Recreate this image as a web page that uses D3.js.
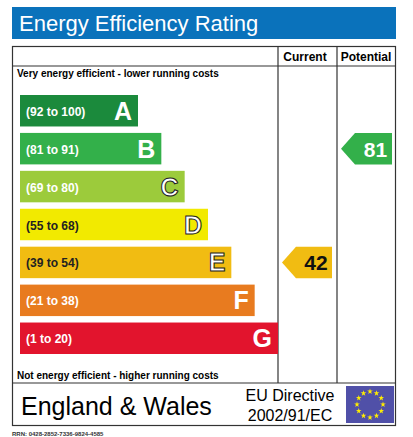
<!DOCTYPE html><html><head><meta charset="utf-8"><script src="https://cdn.jsdelivr.net/npm/d3@7"></script>
<style>body{margin:0;background:#fff}</style></head><body><svg id="c" width="413" height="437"></svg>
<script>
const bands=["A","B","C","D","E","F","G"];
const ranges=["(92 to 100)","(81 to 91)","(69 to 80)","(55 to 68)","(39 to 54)","(21 to 38)","(1 to 20)"];
const colors=["#1b8a3c","#33b04a","#9ccb3b","#f2ea00","#f1bc12","#e87b1f","#e2142d"];
const lowerBounds=[92,81,69,55,39,21,1];
const currentValue=42, potentialValue=81;
const svg=d3.select("#c"), F="Liberation Sans, Arial, sans-serif";
svg.append("rect").attr("x",12).attr("y",7).attr("width",384).attr("height",32).attr("fill","#0a72bb");
svg.append("text").attr("x",19).attr("y",31).attr("fill","#fff").attr("font-family",F).attr("font-size",22).text("Energy Efficiency Rating");
const g=svg.append("g").attr("stroke","#333").attr("stroke-width",1.2).attr("fill","none");
g.append("rect").attr("x",12.5).attr("y",46.5).attr("width",383).attr("height",379);
[[12,66,396,66],[12,383,396,383],[278,46,278,383],[337,46,337,383]].forEach(l=>g.append("line").attr("x1",l[0]).attr("y1",l[1]).attr("x2",l[2]).attr("y2",l[3]));
svg.append("text").attr("x",305).attr("y",61).attr("text-anchor","middle").attr("font-family",F).attr("font-weight","bold").attr("font-size",12).text("Current");
svg.append("text").attr("x",366).attr("y",61).attr("text-anchor","middle").attr("font-family",F).attr("font-weight","bold").attr("font-size",12).text("Potential");
svg.append("text").attr("x",17).attr("y",77).attr("font-family",F).attr("font-weight","bold").attr("font-size",10).text("Very energy efficient - lower running costs");
svg.append("text").attr("x",17).attr("y",379).attr("font-family",F).attr("font-weight","bold").attr("font-size",10).text("Not energy efficient - higher running costs");
const y=d3.scaleBand().domain(bands).range([95,354]).paddingInner(0.17).paddingOuter(0);
const w=d3.scaleLinear().domain([0,6]).range([118,258]);
bands.forEach((b,i)=>{
  const yy=y(b),h=y.bandwidth(),ww=w(i);
  svg.append("rect").attr("x",20).attr("y",yy).attr("width",ww).attr("height",h).attr("fill",colors[i]);
  svg.append("text").attr("x",26).attr("y",yy+h/2+5).attr("fill",i==3||i==4?"#222":"#fff").attr("font-family",F).attr("font-weight","bold").attr("font-size",12).text(ranges[i]);
  svg.append("text").attr("x",20+ww-6).attr("y",yy+h/2+9).attr("text-anchor","end").attr("fill","#fff").attr("stroke","#222").attr("stroke-width",i>=2&&i<=4?1:0).attr("font-family",F).attr("font-weight","bold").attr("font-size",25).text(b);
});
function bandOf(v){return lowerBounds.findIndex(l=>v>=l);}
function arrow(v,x0,x1){
  const i=bandOf(v),yy=y(bands[i]),h=y.bandwidth(),t=14;
  svg.append("path").attr("d",`M${x0},${yy+h/2}L${x0+t},${yy}L${x1},${yy}L${x1},${yy+h}L${x0+t},${yy+h}Z`).attr("fill",colors[i]);
  svg.append("text").attr("x",(x0+t+x1)/2+2).attr("y",yy+h/2+8).attr("text-anchor","middle").attr("fill",i==3||i==4?"#111":"#fff").attr("font-family",F).attr("font-weight","bold").attr("font-size",21).text(v);
}
arrow(currentValue,282,332);arrow(potentialValue,341,392);
svg.append("text").attr("x",21).attr("y",415).attr("font-family",F).attr("font-size",25).text("England & Wales");
svg.append("text").attr("x",290).attr("y",401).attr("text-anchor","middle").attr("font-family",F).attr("font-size",16).text("EU Directive");
svg.append("text").attr("x",290).attr("y",421).attr("text-anchor","middle").attr("font-family",F).attr("font-size",16).text("2002/91/EC");
svg.append("rect").attr("x",346).attr("y",386).attr("width",48).attr("height",37).attr("fill","#5050a8");
const star=d3.symbol().type(d3.symbolStar).size(10);
d3.range(12).forEach(k=>{const a=k*Math.PI/6;svg.append("path").attr("d",star()).attr("transform",`translate(${370+13*Math.cos(a)},${404.5+13*Math.sin(a)})`).attr("fill","#ffed00");});
svg.append("text").attr("x",12).attr("y",436).attr("font-family",F).attr("font-weight","bold").attr("font-size",6).attr("fill","#333").text("RRN: 0428-2852-7336-9824-4585");
</script></body></html>
